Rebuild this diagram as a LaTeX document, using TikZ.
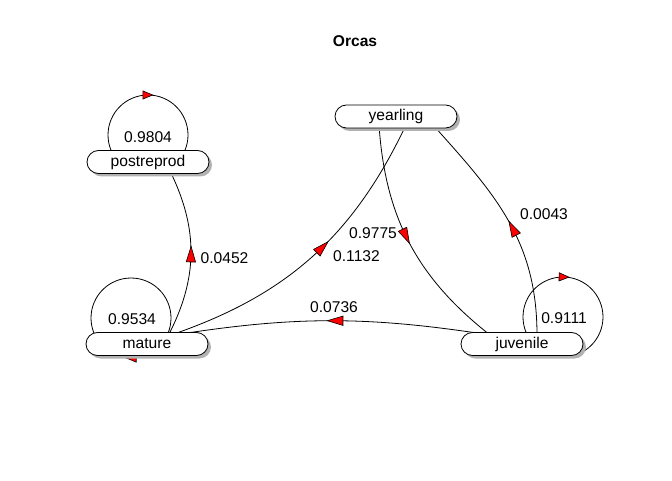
\documentclass[tikz,border=0pt]{standalone}
\usepackage{fontspec}
\setmainfont{Liberation Sans}
\usetikzlibrary{arrows.meta,decorations.markings,shadows,backgrounds}
\definecolor{shadowgrey}{RGB}{178,178,178}
\begin{document}
\begin{tikzpicture}[x=1pt,y=1pt,
  lbl/.style={font=\fontsize{15.6}{18}\selectfont, inner sep=0pt},
  statebox/.style={draw=black, fill=white, line width=0.8pt, rounded corners=11.5pt,
    minimum width=122pt, minimum height=23pt, inner sep=0pt,
    font=\fontsize{15.6}{18}\selectfont,
    general shadow={fill=shadowgrey, shadow xshift=3pt, shadow yshift=-3pt}},
  conn/.style={draw=black, line width=0.8pt},
  midarrow/.style={postaction={decorate}, decoration={markings,
    mark=at position #1 with {\arrow[xshift=8.5pt]{Triangle[length=17pt,width=10pt,fill=red,line width=0.6pt]}}}},
  looparrow/.style={postaction={decorate}, decoration={markings,
    mark=at position #1 with {\arrow[xshift=5.5pt]{Triangle[length=11pt,width=9pt,fill=red,line width=0.6pt]}}}}
]
\useasboundingbox (0,0) rectangle (672,480);

% title
\node[font=\bfseries\fontsize{15.6}{18}\selectfont] (title) at (355,439) {Orcas};

% state boxes
\node[statebox] (P) at (148,318) {postreprod};
\node[statebox] (M) at (147,136) {mature};
\node[statebox] (Y) at (396,363.5) {yearling};
\node[statebox] (J) at (522,136) {juvenile};

% labels
\node[lbl] (l9804) at (148,343) {0.9804};
\node[lbl] (l9534) at (132,161) {0.9534};
\node[lbl] (l9111) at (564,162) {0.9111};
\node[lbl] (l0452) at (224.5,222) {0.0452};
\node[lbl] (l1132) at (356.5,224) {0.1132};
\node[lbl] (l9775) at (373,247) {0.9775};
\node[lbl] (l0043) at (544,266) {0.0043};
\node[lbl] (l0736) at (334,173) {0.0736};

\begin{scope}[on background layer]
  % anchor points hidden under the boxes
  \coordinate (mA) at (168,144);
  \coordinate (pA) at (170,309);
  \coordinate (yL) at (379,355);
  \coordinate (yM) at (406,355);
  \coordinate (yR) at (433,355);
  \coordinate (jL) at (490,145);
  \coordinate (jR) at (537,145);
  \coordinate (pLoop) at (108,345);
  \coordinate (mLoop) at (91,162);
  \coordinate (jLoop) at (523,163);

  % transitions
  \draw[conn, midarrow=0.5] (mA) to[bend right=27] (pA);
  \draw[conn, midarrow=0.548] (mA) to[bend right=23] (yM);
  \draw[conn, midarrow=0.47] (yL) to[bend right=24] (jL);
  \draw[conn, midarrow=0.46] (jR) to[out=90, in=-48, distance=94pt] (yR);
  \draw[conn, midarrow=0.482] (jL) to[bend right=9] (mA);

  % self loops
  \draw[conn, looparrow=0.25] (pLoop) arc[start angle=180, end angle=-180, radius=40pt];
  \draw[conn, looparrow=0.75] (mLoop) arc[start angle=180, end angle=-180, radius=40pt];
  \draw[conn, looparrow=0.255] (jLoop) arc[start angle=180, end angle=-180, radius=40pt];
\end{scope}
\end{tikzpicture}
\end{document}
